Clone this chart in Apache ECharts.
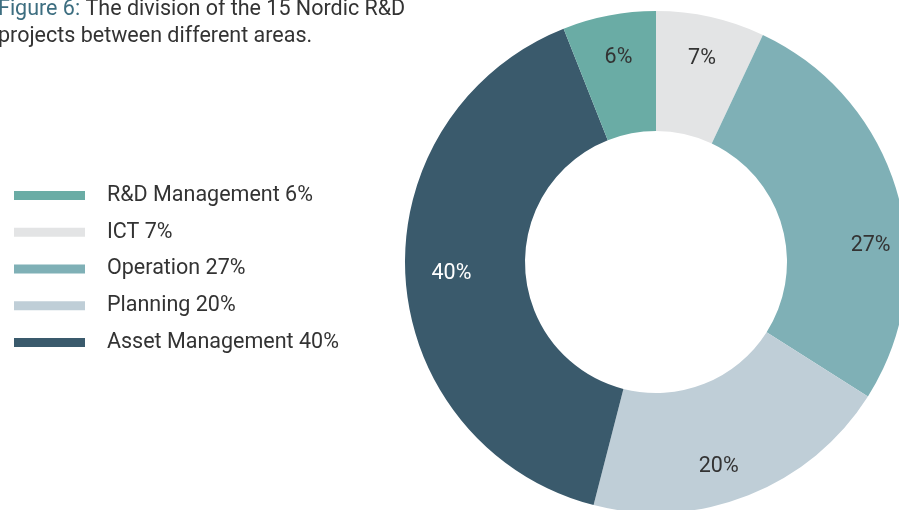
<!DOCTYPE html>
<html>
<head>
<meta charset="utf-8">
<style>
  html, body { margin: 0; padding: 0; background: #ffffff; }
  #chart { width: 899px; height: 510px; }
</style>
<script src="https://cdn.jsdelivr.net/npm/echarts@6/dist/echarts.min.js"></script>
</head>
<body>
<div id="chart"></div>
<script>
// ---- data (clockwise from 12 o'clock) ----
const categories = ['ICT', 'Operation', 'Planning', 'Asset Management', 'R&D Management'];
const shares = [7, 27, 20, 40, 6];
const legendOrder = ['R&D Management', 'ICT', 'Operation', 'Planning', 'Asset Management'];
const titleLead = 'Figure 6:';
const titleLine1 = ' The division of the 15 Nordic R&D';
const titleLine2 = 'projects between different areas.';

// ---- styles (kept apart from data) ----
const sliceColors = ['#e3e4e5', '#7fb0b6', '#bfced7', '#3a5a6c', '#6aaca5'];
const labelColors = ['#333333', '#333333', '#333333', '#ffffff', '#333333'];
const labelOffsets = [[0, 3], [12, 42], [-15, 8], [6, -2], [2, 3]];

const chart = echarts.init(document.getElementById('chart'), null, { renderer: 'canvas' });

const shareByName = {};
categories.forEach((c, i) => { shareByName[c] = shares[i]; });

const mainData = categories.map((c, i) => ({
  name: c, value: shares[i], itemStyle: { color: sliceColors[i] }
}));
const labelData = categories.map((c, i) => ({
  name: c, value: shares[i],
  label: { color: labelColors[i], offset: labelOffsets[i] }
}));

const center = [656, 262];

chart.setOption({
  animation: false,
  title: {
    left: -2, top: -4, padding: 0,
    text: '{a|' + titleLead + '}{b|' + titleLine1 + '}\n{b|' + titleLine2 + '}',
    textStyle: {
      fontWeight: 'normal',
      rich: {
        a: { fontFamily: 'Roboto', fontSize: 21.5, fontWeight: 'normal', color: '#3d6e80', lineHeight: 27 },
        b: { fontFamily: 'Roboto', fontSize: 21.5, fontWeight: 'normal', color: '#333333', lineHeight: 27 }
      }
    }
  },
  legend: {
    orient: 'vertical',
    left: 14, top: 184.5, padding: 0,
    selectedMode: false,
    data: legendOrder.map(n => ({ name: n, icon: 'rect' })),
    itemWidth: 71, itemHeight: 9,
    itemGap: 14.75,
    formatter: n => n + ' ' + shareByName[n] + '%',
    textStyle: {
      fontFamily: 'Roboto', fontSize: 21.5, color: '#333333',
      lineHeight: 20, padding: [0, 0, 0, 17]
    }
  },
  series: [
    {
      type: 'pie',
      center: center,
      radius: [131, 251],
      startAngle: 90,
      clockwise: true,
      silent: true,
      label: { show: false },
      labelLine: { show: false },
      itemStyle: { borderWidth: 0 },
      emphasis: { disabled: true },
      data: mainData
    },
    {
      type: 'pie',
      center: center,
      radius: [207, 209],
      startAngle: 90,
      clockwise: true,
      silent: true,
      itemStyle: { color: 'rgba(0,0,0,0)', borderWidth: 0 },
      label: {
        show: true, position: 'inside',
        formatter: p => p.value + '%',
        fontFamily: 'Roboto', fontSize: 21.5
      },
      labelLine: { show: false },
      emphasis: { disabled: true },
      data: labelData
    }
  ]
});
</script>
</body>
</html>
